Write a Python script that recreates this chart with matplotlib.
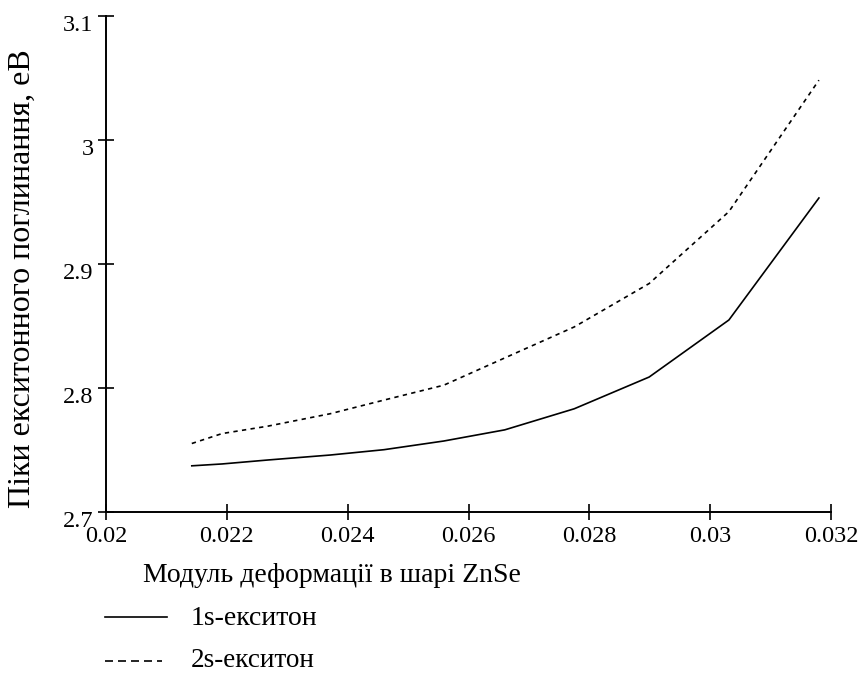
import numpy as np
import matplotlib.pyplot as plt
from matplotlib.lines import Line2D
from matplotlib.transforms import ScaledTranslation

plt.rcParams['font.family'] = ['Liberation Serif', 'DejaVu Serif']

# strain in the ZnSe layer
strain = [0.02142, 0.02192, 0.02268, 0.02371, 0.0246, 0.02559, 0.0266,
          0.02775, 0.02899, 0.03031, 0.0318]
# absorption peaks, eV
peak_1s = [2.737, 2.7385, 2.7417, 2.7457, 2.750, 2.757, 2.766,
           2.783, 2.8086, 2.8546, 2.953]
peak_2s = [2.755, 2.763, 2.769, 2.779, 2.790, 2.802, 2.824,
           2.849, 2.884, 2.942, 3.048]

xticks = [0.02, 0.022, 0.024, 0.026, 0.028, 0.03, 0.032]
xtick_labels = ['0.02', '0.022', '0.024', '0.026', '0.028', '0.03', '0.032']
yticks = [2.7, 2.8, 2.9, 3.0, 3.1]
ytick_labels = ['2.7', '2.8', '2.9', '3', '3.1']

W, H = 868, 673
fig = plt.figure(figsize=(W / 100, H / 100), dpi=100)
ax = fig.add_axes([106 / W, 1 - 511.7 / H, (831 - 106) / W, (511.7 - 15.7) / H])

ax.plot(strain, peak_1s, color='black', lw=1.2)
ax.plot(strain, peak_2s, color='black', lw=1.2, linestyle=(0, (2.6, 2.6)))

ax.set_xlim(0.02, 0.032)
ax.set_ylim(2.7, 3.1)
ax.set_xticks(xticks)
ax.set_xticklabels(xtick_labels)
ax.set_yticks(yticks)
ax.set_yticklabels(ytick_labels)

for s in ['top', 'right']:
    ax.spines[s].set_visible(False)
for s in ['left', 'bottom']:
    ax.spines[s].set_linewidth(1.4)

ax.tick_params(axis='both', direction='inout', length=12, width=1.2,
               labelsize=17.5, colors='black')
ax.tick_params(axis='x', pad=4)
ax.tick_params(axis='y', pad=3)

# y labels sit a bit below their ticks in the original
shift = ScaledTranslation(0, -7 / 100, fig.dpi_scale_trans)
for lab in ax.get_yticklabels():
    lab.set_transform(lab.get_transform() + shift)

fig.text(22 / W, 1 - 279 / H, 'Піки екситонного поглинання, еВ',
         rotation=90, ha='center', va='center', fontsize=23)
fig.text(143 / W, 1 - 582 / H, 'Модуль деформації в шарі ZnSe',
         ha='left', va='baseline', fontsize=20)

# legend drawn below the axis label
fig.add_artist(Line2D([105 / W, 167 / W], [1 - 617 / H, 1 - 617 / H],
                      color='black', lw=1.2))
fig.add_artist(Line2D([105 / W, 162 / W], [1 - 661 / H, 1 - 661 / H],
                      color='black', lw=1.2, linestyle=(0, (4.8, 3.0))))
fig.text(191 / W, 1 - 625 / H, '1s-екситон', ha='left', va='baseline', fontsize=20)
fig.text(191 / W, 1 - 667 / H, '2s-екситон', ha='left', va='baseline', fontsize=19.5)

fig.savefig('out.png', dpi=100)
